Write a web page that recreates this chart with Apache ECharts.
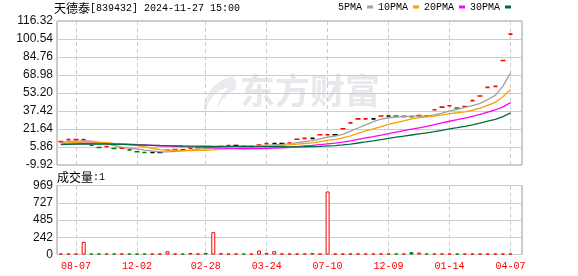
<!DOCTYPE html>
<html><head><meta charset="utf-8">
<script src="https://cdn.jsdelivr.net/npm/echarts@6/dist/echarts.min.js"></script>
<style>html,body{margin:0;padding:0;background:#fff}#c{width:578px;height:276px}</style>
</head><body><div id="c"></div>
<script>
// ---- data ----
const closes = [10.6,12.3,12.3,12.3,7.4,5.4,6.3,4.5,4.7,3.3,
  1.7,1.0,1.0,1.0,3.2,3.6,3.4,4.8,5.2,5.0,
  5.8,6.2,7.1,7.1,6.4,6.4,7.6,8.8,8.8,8.8,
  9.4,12.6,13.4,13.4,16.6,16.6,16.6,21.8,27.0,30.5,
  30.5,30.5,33.0,33.0,33.0,32.7,32.5,33.4,33.0,38.5,
  40.8,42.0,40.0,41.4,46.5,50.6,58.1,59.0,81.7,104.8];
// u = up (red), d = down (green), f = flat (black)
const trend = ['u','u','u','u','d','d','u','d','u','d',
  'd','d','f','f','u','u','d','u','u','d',
  'u','u','u','f','d','f','u','u','f','f',
  'u','u','u','f','u','u','f','u','u','u',
  'u','f','u','f','d','u','d','u','d','u',
  'u','u','d','u','u','u','u','u','u','u'];
const volumes = [1,1,1,177,1,1,1,1,1,1,
  1,1,1,1,46,1,1,22,1,22,
  313,18,1,1,1,1,56,20,46,1,
  1,1,1,20,1,885,1,1,1,1,
  1,1,1,1,1,1,33,28,1,1,
  1,1,1,1,1,1,1,1,1,1];
const ma5 = [10.00,10.49,10.98,11.47,10.98,9.94,8.74,7.18,5.66,4.84,
  4.10,3.04,2.34,1.60,1.58,1.96,2.44,3.20,4.04,4.40,
  4.84,5.40,5.86,6.24,6.52,6.64,6.92,7.26,7.60,8.08,
  8.68,9.68,10.60,11.52,13.08,14.52,15.32,17.00,19.72,22.50,
  25.28,28.06,30.30,31.50,32.00,32.44,32.84,32.92,32.92,34.02,
  35.64,37.54,38.86,40.54,42.14,44.10,47.32,51.12,59.18,70.84];
const ma10 = [8.90,9.35,9.80,10.25,10.21,9.97,9.62,9.08,8.57,7.91,
  7.02,5.89,4.76,3.63,3.21,3.03,2.74,2.77,2.82,2.99,
  3.40,3.92,4.53,5.14,5.46,5.74,6.16,6.56,6.92,7.30,
  7.66,8.30,8.93,9.56,10.58,11.60,12.50,13.80,15.62,17.79,
  19.90,21.69,23.65,25.61,27.25,28.86,30.45,31.61,32.21,33.01,
  34.04,35.19,35.89,36.73,38.08,39.87,42.43,44.99,49.86,56.49];
const ma20 = [8.20,8.44,8.68,8.92,8.92,8.81,8.75,8.60,8.46,8.25,
  7.96,7.62,7.28,6.94,6.71,6.50,6.18,5.93,5.69,5.45,
  5.21,4.91,4.65,4.39,4.34,4.39,4.45,4.67,4.87,5.15,
  5.53,6.11,6.73,7.35,8.02,8.67,9.33,10.18,11.27,12.55,
  13.78,15.00,16.29,17.59,18.92,20.23,21.48,22.71,23.92,25.40,
  26.97,28.44,29.77,31.17,32.67,34.37,36.44,38.30,41.04,44.75];
const ma30 = [8.00,8.16,8.31,8.47,8.46,8.39,8.35,8.24,8.15,8.00,
  7.81,7.59,7.37,7.16,7.01,6.88,6.75,6.66,6.58,6.50,
  6.44,6.39,6.36,6.34,6.29,6.25,6.17,6.14,6.10,6.07,
  6.03,6.04,6.07,6.11,6.42,6.79,7.13,7.71,8.45,9.36,
  10.32,11.30,12.37,13.44,14.43,15.40,16.37,17.32,18.25,19.37,
  20.53,21.73,22.82,23.97,25.30,26.78,28.46,30.13,32.56,35.76];
const tickIndex = [2,10,19,27,35,43,51,59];
const tickLabels = ['08-07','12-02','02-28','03-24','07-10','12-09','01-14','04-07'];
const priceTicks = [-9.92,5.86,21.64,37.42,53.20,68.98,84.76,100.54,116.32];
const volTicks = [0,242,485,727,969];
const titleName = '天德泰';
const titleRest = '[839432] 2024-11-27 15:00';
const volName = '成交量';
const volLast = ':1';
const watermark = '东方财富';

// ---- chart ----
const slotCount = closes.length + 1;
const categories = Array.from({length: slotCount}, (_, i) => String(i));
const RED = '#ff0000', GREEN = '#008000', BLACK = '#000000';
const colorOf = t => t === 'u' ? RED : (t === 'd' ? GREEN : BLACK);
const candleData = closes.map((c, i) => {
  const col = colorOf(trend[i]);
  return {value: [c, c, c, c], itemStyle: {color: col, color0: col, borderColor: col, borderColor0: col, borderColorDoji: col}};
});
const volData = volumes.map((v, i) => {
  const down = trend[i] === 'd';
  return {value: v, itemStyle: down ? {color: GREEN, borderColor: GREEN, borderWidth: 1}
                                    : {color: '#ffffff', borderColor: RED, borderWidth: 1}};
});
const isTick = (idx) => tickIndex.indexOf(idx) >= 0;
const mono = '"Liberation Mono", "DejaVu Sans Mono", monospace';
const cjk = '"Noto Sans CJK SC", sans-serif';
const labelFont = '"Liberation Sans", Arial, sans-serif';
const richTitle = {
  c: {fontFamily: cjk, fontSize: 12, fontWeight: 'normal', color: '#000', lineHeight: 14},
  m: {fontFamily: mono, fontSize: 10, fontWeight: 'normal', color: '#000', lineHeight: 14}
};

const chart = echarts.init(document.getElementById('c'), null, {renderer: 'canvas'});
const xCommon = {
  type: 'category', data: categories, boundaryGap: true,
  axisLine: {show: false}, axisTick: {show: false},
  splitLine: {show: true, interval: (i) => isTick(i), alignWithLabel: true,
    lineStyle: {color: '#cccccc', width: 1, type: [4, 3]}}
};
chart.setOption({
  animation: false,
  backgroundColor: '#ffffff',
  title: [
    {text: '{c|' + titleName + '}{m|' + titleRest + '}', left: 54, top: 1, padding: 0,
     textStyle: {fontWeight: 'normal', rich: richTitle}},
    {text: '{c|' + volName + '}{m|' + volLast + '}', left: 57, top: 170, padding: 0,
     textStyle: {fontWeight: 'normal', rich: richTitle}}
  ],
  legend: {
    left: 338, top: 2, itemGap: 5, itemWidth: 6, itemHeight: 3, align: 'right', icon: 'rect',
    padding: 0,
    textStyle: {fontFamily: mono, fontSize: 10, color: '#000'},
    data: ['5PMA', '10PMA', '20PMA', '30PMA']
  },
  graphic: [
    {type: 'polygon', z: -10, silent: true,
     shape: {points: [[233,76],[222,80],[213,87],[207,96],[204,104],[205,113],[208,104],[213,96],[220,90],[229,87],
                      [223,94],[219,101],[217,109],[222,100],[228,94],[236,89],[236,82]]},
     style: {fill: '#ebebef'}},
    {type: 'text', left: 240, top: 73, z: -10, silent: true,
     style: {text: watermark, font: 'bold 35px "Noto Sans CJK SC"', fill: '#e8e8ec'}}
  ],
  grid: [
    {left: 57, top: 21, width: 465, height: 144, show: true, borderColor: '#999999', borderWidth: 1, outerBoundsMode: 'none'},
    {left: 57, top: 185.5, width: 465, height: 69, show: true, borderColor: '#999999', borderWidth: 1, outerBoundsMode: 'none'}
  ],
  xAxis: [
    Object.assign({}, xCommon, {gridIndex: 0, axisLabel: {show: false}}),
    Object.assign({}, xCommon, {gridIndex: 1, axisLabel: {show: true, interval: (i) => isTick(i),
      formatter: (v) => tickLabels[tickIndex.indexOf(Number(v))] || '',
      color: RED, fontFamily: mono, fontSize: 10, margin: 7}})
  ],
  yAxis: [
    {type: 'value', gridIndex: 0, min: priceTicks[0], max: priceTicks[priceTicks.length - 1],
     interval: priceTicks[1] - priceTicks[0], scale: true,
     axisLine: {show: false}, axisTick: {show: false},
     splitLine: {show: true, lineStyle: {color: '#cccccc', width: 1}},
     axisLabel: {color: '#111', fontFamily: labelFont, fontSize: 12, margin: 4, showMinLabel: true, showMaxLabel: true,
       formatter: (v) => v.toFixed(2)}},
    {type: 'value', gridIndex: 1, min: volTicks[0], max: volTicks[volTicks.length - 1],
     interval: (volTicks[volTicks.length - 1] - volTicks[0]) / (volTicks.length - 1),
     axisLine: {show: false}, axisTick: {show: false},
     splitLine: {show: true, lineStyle: {color: '#cccccc', width: 1}},
     axisLabel: {color: '#111', fontFamily: labelFont, fontSize: 12, margin: 4, showMinLabel: true, showMaxLabel: true,
       formatter: (v) => String(Math.round(v))}}
  ],
  series: [
    {type: 'candlestick', name: 'K', xAxisIndex: 0, yAxisIndex: 0, data: candleData, barWidth: 5,
     itemStyle: {borderWidth: 1.6}},
    {type: 'line', name: '5PMA', data: ma5, xAxisIndex: 0, yAxisIndex: 0, showSymbol: false, symbol: 'none',
     lineStyle: {color: '#a0a0a0', width: 1.3}, itemStyle: {color: '#a0a0a0'}},
    {type: 'line', name: '10PMA', data: ma10, xAxisIndex: 0, yAxisIndex: 0, showSymbol: false, symbol: 'none',
     lineStyle: {color: '#f5a300', width: 1.3}, itemStyle: {color: '#f5a300'}},
    {type: 'line', name: '20PMA', data: ma20, xAxisIndex: 0, yAxisIndex: 0, showSymbol: false, symbol: 'none',
     lineStyle: {color: '#ff00ff', width: 1.3}, itemStyle: {color: '#ff00ff'}},
    {type: 'line', name: '30PMA', data: ma30, xAxisIndex: 0, yAxisIndex: 0, showSymbol: false, symbol: 'none',
     lineStyle: {color: '#006f35', width: 1.3}, itemStyle: {color: '#006f35'}},
    {type: 'bar', name: 'VOL', xAxisIndex: 1, yAxisIndex: 1, data: volData, barWidth: 4, barMinHeight: 1}
  ]
});
</script></body></html>
